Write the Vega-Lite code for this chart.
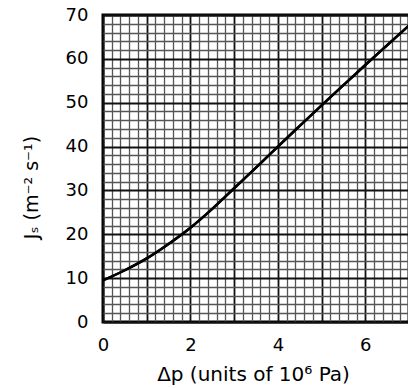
{
  "$schema": "https://vega.github.io/schema/vega-lite/v6.json",
  "autosize": "none",
  "width": 306,
  "height": 307,
  "padding": {"left": 103, "top": 15, "right": 0, "bottom": 66},
  "background": "white",
  "config": {
    "view": {"stroke": "black", "strokeWidth": 3},
    "font": "DejaVu Sans",
    "axis": {"labelFont": "DejaVu Sans", "titleFont": "DejaVu Sans"}
  },
  "data": {"values": [
    {"dp": 0, "js": 9.5},
    {"dp": 0.5, "js": 11.8},
    {"dp": 1, "js": 14.5},
    {"dp": 1.5, "js": 17.8},
    {"dp": 2, "js": 21.5},
    {"dp": 2.5, "js": 25.8},
    {"dp": 3, "js": 30.5},
    {"dp": 3.5, "js": 35.2},
    {"dp": 4, "js": 40},
    {"dp": 4.5, "js": 44.7},
    {"dp": 5, "js": 49.4},
    {"dp": 5.5, "js": 54},
    {"dp": 6, "js": 58.6},
    {"dp": 6.5, "js": 63.1},
    {"dp": 7, "js": 67.6}
  ]},
  "resolve": {"axis": {"x": "independent", "y": "independent"}},
  "layer": [
    {
      "mark": {"type": "line", "color": "black", "strokeWidth": 2.5, "interpolate": "monotone", "clip": true},
      "encoding": {
        "x": {"field": "dp", "type": "quantitative", "scale": {"domain": [0, 7], "nice": false},
          "axis": {"orient": "bottom", "values": [0.2,0.4,0.6,0.8,1.2,1.4,1.6,1.8,2.2,2.4,2.6,2.8,3.2,3.4,3.6,3.8,4.2,4.4,4.6,4.8,5.2,5.4,5.6,5.8,6.2,6.4,6.6,6.8],
            "labels": false, "ticks": false, "domain": false, "title": null,
            "grid": true, "gridColor": "#555", "gridWidth": 1.3, "gridOpacity": 1}},
        "y": {"field": "js", "type": "quantitative", "scale": {"domain": [0, 70], "nice": false},
          "axis": {"orient": "left", "values": [2,4,6,8,12,14,16,18,22,24,26,28,32,34,36,38,42,44,46,48,52,54,56,58,62,64,66,68],
            "labels": false, "ticks": false, "domain": false, "title": null,
            "grid": true, "gridColor": "#555", "gridWidth": 1.3, "gridOpacity": 1}}
      }
    },
    {
      "mark": {"type": "line", "color": "black", "strokeWidth": 2.5, "interpolate": "monotone", "clip": true},
      "encoding": {
        "x": {"field": "dp", "type": "quantitative", "scale": {"domain": [0, 7], "nice": false},
          "axis": {"orient": "bottom", "values": [0,1,2,3,4,5,6,7], "labelExpr": "datum.value % 2 == 0 && datum.value < 7 ? datum.label : ''",
            "ticks": false, "domain": false, "labelPadding": 14, "labelFontSize": 18, "labelColor": "black", "labelFlush": false,
            "grid": true, "gridColor": "#111", "gridWidth": 1.8, "gridOpacity": 1,
            "title": "Δp (units of 10⁶ Pa)", "titleFontSize": 20, "titleFontWeight": "normal", "titleColor": "black",
            "titlePadding": 10, "titleX": 150}},
        "y": {"field": "js", "type": "quantitative", "scale": {"domain": [0, 70], "nice": false},
          "axis": {"orient": "left", "values": [0,10,20,30,40,50,60,70],
            "ticks": false, "domain": false, "labelPadding": 15, "labelFontSize": 18, "labelColor": "black", "labelFlush": false,
            "grid": true, "gridColor": "#111", "gridWidth": 1.8, "gridOpacity": 1,
            "title": "Jₛ (m⁻² s⁻¹)", "titleFontSize": 19, "titleFontWeight": "normal", "titleColor": "black",
            "titlePadding": 24, "titleY": 172}}
      }
    }
  ]
}
